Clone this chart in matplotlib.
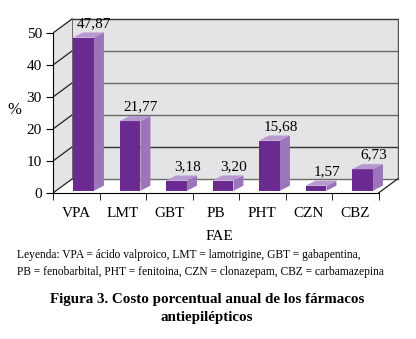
import matplotlib
matplotlib.use("Agg")
import matplotlib.pyplot as plt
from matplotlib.patches import Polygon

# data
drugs = ["VPA", "LMT", "GBT", "PB", "PHT", "CZN", "CBZ"]
cost_pct = [47.87, 21.77, 3.18, 3.20, 15.68, 1.57, 6.73]
value_labels = ["47,87", "21,77", "3,18", "3,20", "15,68", "1,57", "6,73"]
yticks = [0, 10, 20, 30, 40, 50]

plt.rcParams["font.family"] = ["Liberation Serif", "DejaVu Serif"]

# pseudo-3d geometry, in data units
WX, WY = 0.41, 4.4      # depth of the walls
BX, BY = 0.215, 1.6     # depth of a bar
BAR_OFF, BAR_W, BAR_Z = 0.43, 0.45, 0.7
n = len(drugs)
ymax = 50

fig = plt.figure(figsize=(4.16, 3.39), dpi=100)
ax = fig.add_axes([53 / 416, 146 / 339, 346 / 416, 176 / 339])
ax.set_xlim(0, n + WX + 0.03)
ax.set_ylim(0, ymax + WY + 0.6)
ax.patch.set_alpha(0)

wall = "#e4e4e6"
# back wall, side wall, floor
ax.add_patch(Polygon([(WX, WY), (n + WX, WY), (n + WX, ymax + WY), (WX, ymax + WY)],
                     closed=True, fc=wall, ec="none", zorder=0))
ax.add_patch(Polygon([(0, 0), (WX, WY), (WX, ymax + WY), (0, ymax)],
                     closed=True, fc=wall, ec="none", zorder=0))
ax.add_patch(Polygon([(0, 0), (n, 0), (n + WX, WY), (WX, WY)],
                     closed=True, fc="white", ec="none", zorder=0))
for t in yticks:
    c = "#333333" if t in (10, 50) else "#6a6a6a"
    ax.plot([WX, n + WX], [t + WY, t + WY], color=c, lw=1.0, zorder=1)
    ax.plot([0, WX], [t, t + WY], color="#222222", lw=0.9, zorder=1)
ax.plot([n + WX, n + WX], [WY, ymax + WY], color="#555555", lw=1.0, zorder=1)
ax.plot([WX, WX], [WY, ymax + WY], color="#555555", lw=0.6, zorder=1)
ax.plot([n, n + WX], [0, WY], color="#222222", lw=0.9, zorder=1)

front, side, top = "#6b2a90", "#9c74ba", "#b899cf"
for i, v in enumerate(cost_pct):
    x0 = i + BAR_OFF
    x1 = x0 + BAR_W
    y0 = BAR_Z
    y1 = BAR_Z + v
    ax.add_patch(Polygon([(x0, y0), (x1, y0), (x1, y1), (x0, y1)],
                         closed=True, fc=front, ec="none", zorder=3))
    ax.add_patch(Polygon([(x1, y0), (x1 + BX, y0 + BY), (x1 + BX, y1 + BY), (x1, y1)],
                         closed=True, fc=side, ec="none", zorder=3))
    ax.add_patch(Polygon([(x0, y1), (x1, y1), (x1 + BX, y1 + BY), (x0 + BX, y1 + BY)],
                         closed=True, fc=top, ec="none", zorder=3))
    ax.text(i + 0.89, y1 + BY + 0.8, value_labels[i], ha="center", va="bottom",
            fontsize=11, zorder=4)

for s in ["top", "right"]:
    ax.spines[s].set_visible(False)
ax.spines["left"].set_bounds(0, ymax)
ax.spines["bottom"].set_bounds(0, n)
ax.spines["left"].set_zorder(2)
ax.spines["bottom"].set_zorder(2)

ax.set_yticks(yticks)
ax.set_yticklabels([str(t) for t in yticks])
ax.tick_params(axis="y", length=5, pad=3, labelsize=11)
ax.set_xticks([i + 0.5 for i in range(n)])
ax.set_xticklabels(drugs)
ax.set_xticks(range(n + 1), minor=True)
ax.tick_params(axis="x", which="major", length=0, pad=10, labelsize=11)
ax.tick_params(axis="x", which="minor", length=5)

fig.text(14 / 416, 1 - 110 / 339, "%", ha="center", va="center", fontsize=12)
fig.text(219 / 416, 1 - 237 / 339, "FAE", ha="center", va="center", fontsize=11)
fig.text(17 / 416, 1 - 255 / 339,
         "Leyenda: VPA = ácido valproico, LMT = lamotrigine, GBT = gabapentina,",
         ha="left", va="center", fontsize=8.3)
fig.text(17 / 416, 1 - 272 / 339,
         "PB = fenobarbital, PHT = fenitoina, CZN = clonazepam, CBZ = carbamazepina",
         ha="left", va="center", fontsize=8.3)
fig.text(207 / 416, 1 - 300 / 339, "Figura 3. Costo porcentual anual de los fármacos",
         ha="center", va="center", fontsize=10.8, fontweight="bold")
fig.text(207 / 416, 1 - 318 / 339, "antiepilépticos",
         ha="center", va="center", fontsize=10.8, fontweight="bold")

fig.savefig("out.png", dpi=100)
